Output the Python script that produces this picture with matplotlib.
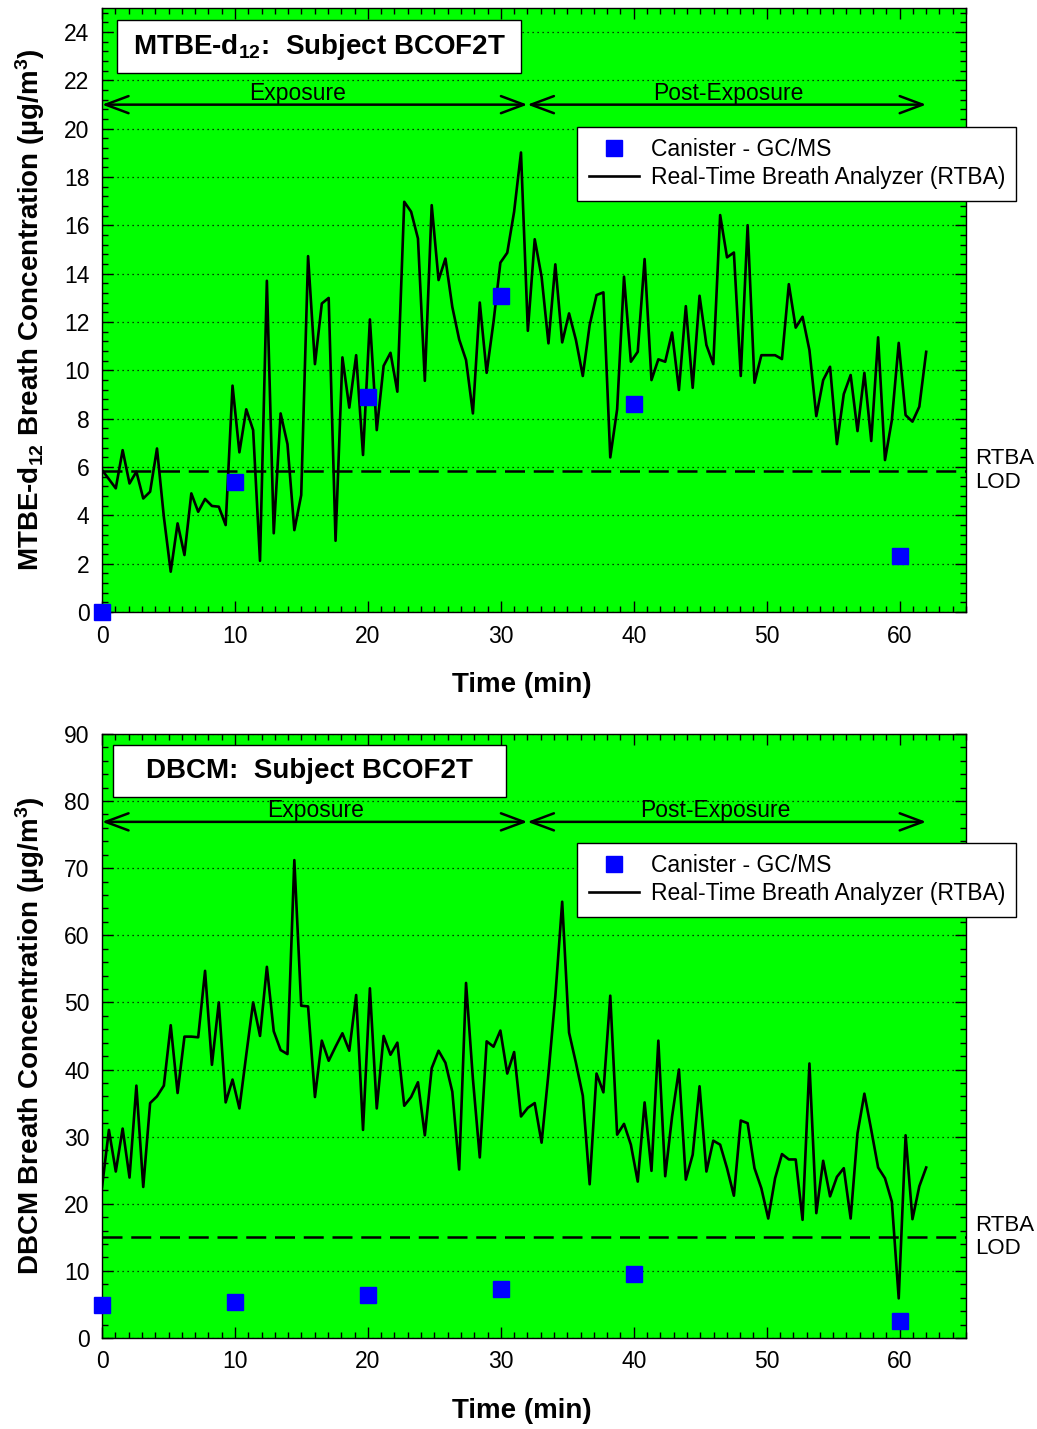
import numpy as np
import matplotlib
matplotlib.use("Agg")
import matplotlib.pyplot as plt
from matplotlib.ticker import MultipleLocator
from matplotlib.patches import Rectangle

plt.rcParams['font.family'] = ['Liberation Sans', 'DejaVu Sans']
plt.rcParams['mathtext.fontset'] = 'custom'
plt.rcParams['mathtext.bf'] = 'Liberation Sans:bold'
plt.rcParams['mathtext.rm'] = 'Liberation Sans'
plt.rcParams['mathtext.default'] = 'bf'

# RTBA readings, one about every 31 s over 62 min
rtba_time = np.linspace(0, 62, 121)

mtbe_rtba = [5.88, 5.5, 5.12, 6.70, 5.32, 5.81, 4.70, 4.98, 6.77, 3.94,
             1.67, 3.67, 2.36, 4.91, 4.15, 4.68, 4.39, 4.36, 3.60, 9.37,
             6.61, 8.39, 7.53, 2.12, 13.71, 3.26, 8.22, 6.95, 3.39, 4.84,
             14.73, 10.26, 12.77, 13.00, 2.95, 10.54, 8.46, 10.63, 6.50, 12.11,
             7.53, 10.19, 10.73, 9.12, 16.98, 16.57, 15.46, 9.57, 16.84, 13.74,
             14.63, 12.63, 11.28, 10.43, 8.22, 12.81, 9.90, 12.01, 14.46, 14.87,
             16.57, 19.02, 11.64, 15.43, 13.88, 11.12, 14.39, 11.16, 12.36, 11.26,
             9.77, 11.88, 13.12, 13.23, 6.40, 8.39, 13.88, 10.36, 10.77, 14.61,
             9.60, 10.46, 10.36, 11.57, 9.19, 12.66, 9.28, 13.09, 11.05, 10.26,
             16.43, 14.68, 14.88, 9.77, 16.01, 9.49, 10.63, 10.63, 10.63, 10.47,
             13.57, 11.77, 12.22, 10.84, 8.11, 9.60, 10.15, 6.95, 9.02, 9.81,
             7.49, 9.90, 7.08, 11.37, 6.29, 7.94, 11.14, 8.15, 7.88, 8.50,
             10.77]

dbcm_rtba = [22.5, 31.0, 24.8, 31.2, 23.9, 37.6, 22.5, 35.0, 36.0, 37.6,
             46.6, 36.5, 44.9, 44.9, 44.8, 54.7, 40.7, 50.0, 35.1, 38.5,
             34.2, 42.2, 50.0, 45.0, 55.3, 45.7, 42.9, 42.3, 71.2, 49.5,
             49.4, 35.9, 44.3, 41.3, 43.4, 45.4, 42.8, 51.1, 31.0, 52.1,
             34.2, 45.0, 42.2, 44.0, 34.6, 35.9, 38.1, 30.2, 40.2, 42.8,
             41.0, 36.7, 25.1, 52.9, 38.6, 26.9, 44.2, 43.4, 45.8, 39.4,
             42.6, 33.0, 34.3, 35.0, 29.1, 39.4, 50.9, 65.0, 45.5, 41.0,
             36.1, 22.9, 39.4, 36.6, 51.0, 30.3, 31.9, 28.8, 23.3, 35.1,
             24.9, 44.3, 24.1, 33.0, 40.0, 23.6, 27.3, 37.5, 24.8, 29.4,
             28.8, 25.3, 21.2, 32.4, 32.0, 25.3, 22.3, 17.8, 23.8, 27.4,
             26.6, 26.6, 17.6, 40.9, 18.6, 26.4, 21.1, 24.0, 25.3, 17.8,
             30.5, 36.4, 31.0, 25.4, 23.8, 20.3, 5.9, 30.2, 17.7, 22.6,
             25.4]

canister_time = [0, 10, 20, 30, 40, 60]
mtbe_canister = [0.0, 5.4, 8.9, 13.1, 8.6, 2.3]
dbcm_canister = [4.9, 5.4, 6.4, 7.3, 9.6, 2.6]

mtbe_lod = 5.85
dbcm_lod = 15.0

exposure_end = 32
post_end = 62

fig = plt.figure(figsize=(10.37, 14.29), dpi=100)
ax1 = fig.add_axes([0.0984, 0.5717, 0.8332, 0.4227])
ax2 = fig.add_axes([0.0984, 0.0637, 0.8332, 0.4227])

panels = [
    (ax1, mtbe_rtba, mtbe_canister, mtbe_lod, 25, 2, 0.4,
     'MTBE-d$_{12}$ Breath Concentration (µg/m$^{3}$)',
     'MTBE-d$_{12}$:  Subject BCOF2T', (0.0174, 0.892, 0.4676, 0.088),
     21.0, (14.7, 47.1), 0.803),
    (ax2, dbcm_rtba, dbcm_canister, dbcm_lod, 90, 10, 2,
     'DBCM Breath Concentration (µg/m$^{3}$)',
     'DBCM:  Subject BCOF2T', (0.0127, 0.896, 0.4549, 0.086),
     76.9, (16.1, 46.1), 0.8195),
]

for ax, rtba, canister, lod, ymax, ymaj, ymin, ylabel, title, box, arrow_y, lab_x, leg_top in panels:
    ax.set_facecolor('#00ff00')
    ax.set_xlim(0, 65)
    ax.set_ylim(0, ymax)
    ax.xaxis.set_major_locator(MultipleLocator(10))
    ax.xaxis.set_minor_locator(MultipleLocator(1))
    ax.yaxis.set_major_locator(MultipleLocator(ymaj))
    ax.yaxis.set_minor_locator(MultipleLocator(ymin))
    ax.set_xticks([0, 10, 20, 30, 40, 50, 60])
    ax.tick_params(which='both', direction='in', top=True, right=True,
                   labelsize=16.5, width=1)
    ax.tick_params(which='major', length=8, pad=9)
    ax.tick_params(which='minor', length=4)
    ax.grid(axis='y', which='major', color='k', linestyle=(0, (1, 3)), linewidth=0.9)
    ax.set_axisbelow(True)
    for s in ax.spines.values():
        s.set_linewidth(1.0)

    ax.axhline(lod, color='k', linestyle=(0, (8, 3.5)), linewidth=1.8)
    line, = ax.plot(rtba_time, rtba, color='k', linewidth=1.9,
                    label='Real-Time Breath Analyzer (RTBA)')
    sq, = ax.plot(canister_time, canister, linestyle='none', marker='s',
                  markersize=11, color='#0000ff', clip_on=False, zorder=5,
                  label='Canister - GC/MS')

    ax.set_xlabel('Time (min)', fontsize=20, fontweight='bold', labelpad=12)
    ax.xaxis.set_label_coords(0.486, -0.1)
    ax.set_ylabel(ylabel, fontsize=20, fontweight='bold', labelpad=12)

    ax.text(1.01, lod, 'RTBA\nLOD', transform=ax.get_yaxis_transform(),
            fontsize=16, va='center', ha='left', linespacing=1.15)

    ax.add_patch(Rectangle((box[0], box[1]), box[2], box[3], transform=ax.transAxes,
                           facecolor='white', edgecolor='k', linewidth=1, zorder=6))
    ax.text(box[0] + box[2] / 2, box[1] + box[3] / 2, title, transform=ax.transAxes,
            fontsize=20, fontweight='bold', ha='center', va='center', zorder=7)

    spans = [(0, exposure_end, 'Exposure'), (exposure_end, post_end, 'Post-Exposure')]
    for (x0, x1, lab), lx in zip(spans, lab_x):
        ax.annotate('', xy=(x1, arrow_y), xytext=(x0, arrow_y), annotation_clip=False,
                    arrowprops=dict(arrowstyle='<->,head_length=0.75,head_width=0.28',
                                    color='k', lw=1.8, shrinkA=0, shrinkB=0,
                                    mutation_scale=22))
        ax.text(lx, arrow_y, lab, fontsize=16.5, ha='center', va='bottom')

    leg = ax.legend(handles=[sq, line], loc='upper left',
                    bbox_to_anchor=(0.55, leg_top),
                    fontsize=16.5, frameon=True, fancybox=False, framealpha=1,
                    edgecolor='k', handlelength=2.2, handletextpad=0.5,
                    borderpad=0.5, labelspacing=0.22, markerscale=1.0,
                    borderaxespad=0)
    leg.get_frame().set_linewidth(1.0)
    leg.set_zorder(8)

fig.savefig('out.png', dpi=100)
